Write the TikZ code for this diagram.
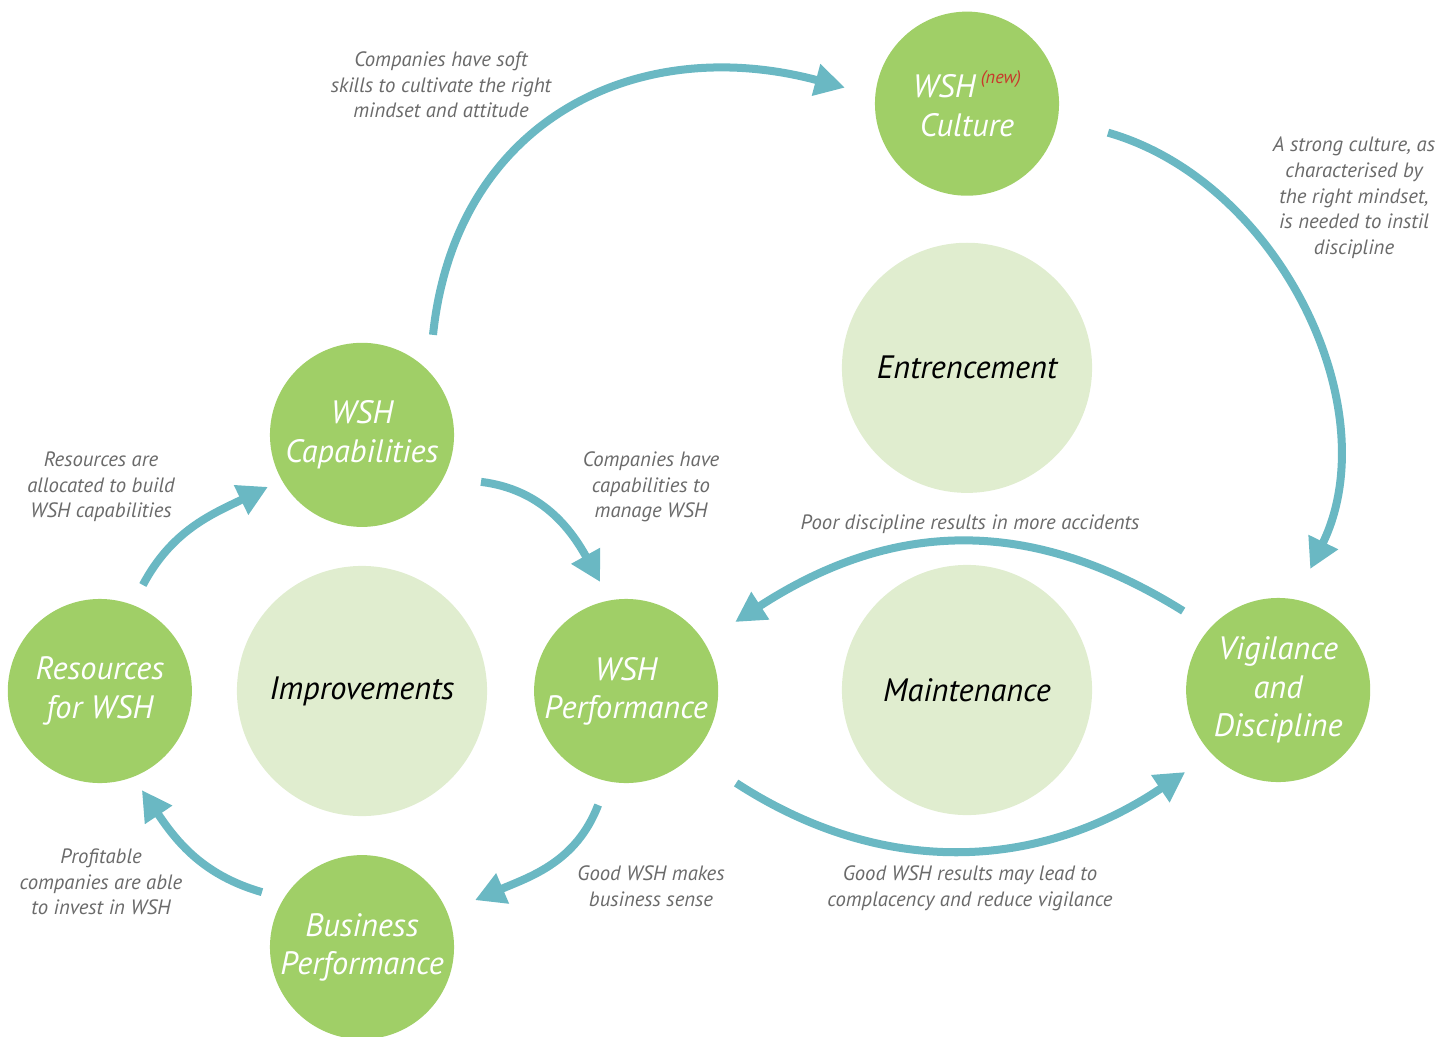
\documentclass[tikz,border=0pt]{standalone}
\usepackage{fontspec}
\setmainfont{PT Sans}
\usetikzlibrary{arrows.meta,positioning}

\definecolor{wshgreen}{HTML}{A0CF67}
\definecolor{wshlight}{HTML}{E0EDCF}
\definecolor{wshteal}{HTML}{6AB8C3}
\definecolor{wshgrey}{HTML}{6A6A6A}
\definecolor{wshred}{HTML}{C8392B}

\tikzset{
  stage/.style={circle, fill=wshgreen, minimum size=1.84cm, inner sep=0pt,
    align=center, text=white, font=\fontsize{9.2}{10.9}\selectfont\itshape},
  phase/.style={circle, fill=wshlight, minimum size=2.5cm, inner sep=0pt,
    text=black, font=\fontsize{9.2}{10.9}\selectfont\itshape},
  note/.style={align=center, text=wshgrey, inner sep=0pt,
    font=\fontsize{5.9}{7.3}\selectfont\itshape},
  flow/.style={draw=wshteal, line width=0.08cm,
    -{Triangle[length=0.3cm,width=0.31cm]}},
}

\begin{document}
\begin{tikzpicture}[x=0.01cm, y=-0.01cm, node distance=2.6cm]
    \useasboundingbox (0,0) rectangle (1436,1036);

    % Left cycle
    \node [phase] (imp) at (362,691) {Improvements};
    \node [stage, left of=imp, node distance=2.62cm] (res) {Resources\\for WSH};
    \node [stage, right of=imp, node distance=2.64cm] (perf) {WSH\\Performance};
    \node [stage, above of=imp, node distance=2.56cm] (cap) {WSH\\Capabilities};
    \node [stage, below of=imp, node distance=2.56cm] (bus) {Business\\Performance};

    % Right cycle
    \node [phase] (main) at (967,690) {Maintenance};
    \node [stage, right of=main, node distance=3.11cm] (vig) {Vigilance\\and\\Discipline};
    \node [phase, above of=main, node distance=3.22cm] (ent) {Entrencement};
    \node [stage, above of=ent, node distance=2.64cm] (cul)
        {WSH\,\raisebox{0.85ex}{\fontsize{5.2}{6}\selectfont\color{wshred}(new)}\\Culture};

    % Arrow ends
    \path (cap.center) ++(71,-100) coordinate (capup);
    \path (cul.center) ++(-122,-16) coordinate (culin);
    \path (cul.center) ++(141,29) coordinate (culout);
    \path (vig.center) ++(32,-121) coordinate (vigtop);
    \path (vig.center) ++(-95,-79) coordinate (vigout);
    \path (perf.center) ++(109,-69) coordinate (perfin);
    \path (perf.center) ++(110,92) coordinate (perfout);
    \path (vig.center) ++(-93,82) coordinate (vigin);
    \path (cap.center) ++(119,47) coordinate (capout);
    \path (perf.center) ++(-26,-109) coordinate (perftop);
    \path (perf.center) ++(-28,114) coordinate (perfdown);
    \path (bus.center) ++(113,-47) coordinate (busin);
    \path (bus.center) ++(-100,-55) coordinate (busout);
    \path (res.center) ++(42,99) coordinate (resin);
    \path (res.center) ++(43,-106) coordinate (resout);
    \path (cap.center) ++(-94,52) coordinate (capin);

    % Arrows
    \draw [flow] (capup) to[out=84, in=165, looseness=1.15] (culin);
    \draw [flow] (culout) to[out=-16, in=64, looseness=0.95] (vigtop);
    \draw [flow] (vigout) to[out=148, in=33, looseness=1.05] (perfin);
    \draw [flow] (perfout) to[out=-33, in=-146] (vigin);
    \draw [flow] (capout) to[out=-7, in=119] (perftop);
    \draw [flow] (perfdown) to[out=-111, in=23] (busin);
    \draw [flow] (busout) to[out=164, in=-56] (resin);
    \draw [flow] (resout) to[out=62, in=206] (capin);

    % Labels
    \node [note] (lcul) at (441,85) {Companies have soft\\skills to cultivate the right\\mindset and attitude};
    \node [note] (lvig) at (1354,198) {A strong culture, as\\characterised by\\the right mindset,\\is needed to instil\\discipline};
    \node [note] (lcap) at (101,487) {Resources are\\allocated to build\\WSH capabilities};
    \node [note] (lperf) at (651,487) {Companies have\\capabilities to\\manage WSH};
    \node [note] (lpoor) at (970,524) {Poor discipline results in more accidents};
    \node [note] (lres) at (101,882) {Profitable\\companies are able\\to invest in WSH};
    \node [note] (lbus) at (651,886) {Good WSH makes\\business sense};
    \node [note] (lgood) at (970,888) {Good WSH results may lead to\\complacency and reduce vigilance};
\end{tikzpicture}
\end{document}
